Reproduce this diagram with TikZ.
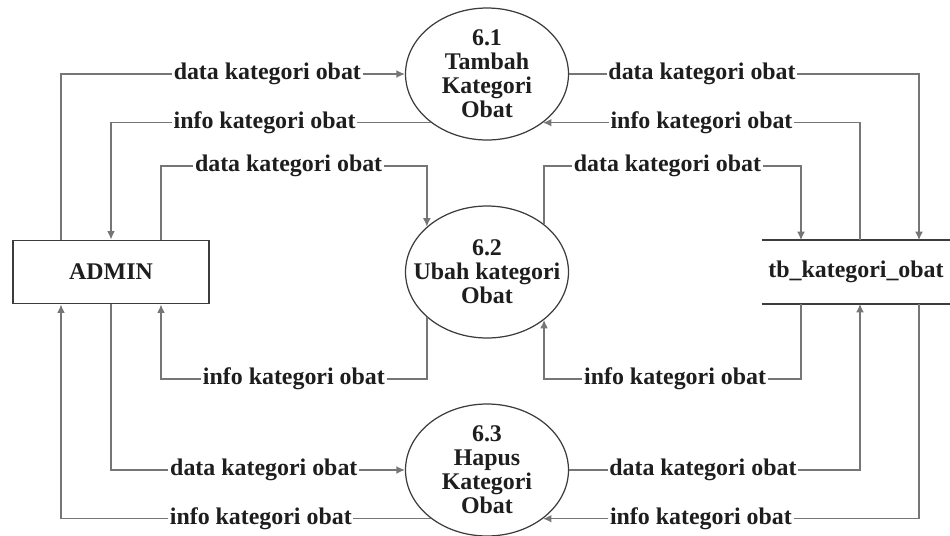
\documentclass[tikz,border=0pt]{standalone}
\usepackage{fontspec}
\setmainfont{Liberation Serif}
\usetikzlibrary{arrows.meta, shapes.geometric}

\begin{document}
\begin{tikzpicture}[
    x=0.02cm, y=-0.02cm,
    every node/.style={font=\fontsize{13.6}{13.7}\selectfont\bfseries, text=textcol},
    proc/.style={ellipse, draw=edgecol, line width=0.7pt,
        minimum width=3.26cm, minimum height=2.64cm, inner sep=0pt},
    proctext/.style={align=center, inner sep=0pt},
    entity/.style={draw=edgecol, line width=1.1pt,
        minimum width=3.92cm, minimum height=1.26cm},
    store/.style={minimum width=3.76cm, minimum height=1.26cm},
    storeline/.style={draw=edgecol, line width=0.9pt},
    flow/.style={draw=flowcol, line width=0.75pt,
        -{Latex[length=4.8pt, width=4.4pt]}},
    flowlbl/.style={fill=white, inner xsep=1pt, inner ysep=0pt},
]

\definecolor{textcol}{HTML}{1E1E1E}   % labels
\definecolor{edgecol}{HTML}{3C3C3C}   % process and entity outlines
\definecolor{flowcol}{HTML}{767676}   % data flows

\useasboundingbox (0,0) rectangle (950,535);

% ---------------------------------------------------------------- entities
\node[entity] (admin) at (111,272) {ADMIN};
\node[store]  (store) at (856,272) {tb\_kategori\_obat};
\draw[storeline] (store.north west) -- (store.north east);
\draw[storeline] (store.south west) -- (store.south east);

% ---------------------------------------------------------------- processes
\node[proc] (p1) at (487,74)  {};
\node[proc] (p2) at (487,272) {};
\node[proc] (p3) at (487,470) {};
\node[proctext] (p1txt) at (p1) {6.1\\Tambah\\Kategori\\Obat};
\node[proctext] (p2txt) at (p2) {6.2\\Ubah kategori\\Obat};
\node[proctext] (p3txt) at (p3) {6.3\\Hapus\\Kategori\\Obat};

% lanes and rows for the routed flows
\coordinate (aL) at (61,272);
\coordinate (aR) at (161,272);
\coordinate (sA) at (801,272);
\coordinate (sB) at (860,272);
\coordinate (sC) at (919,272);
\coordinate (r3) at (0,166);
\coordinate (r4) at (0,379);

% ---------------------------------------------------------------- ADMIN side
\draw[flow] (aL |- admin.north) |- node[flowlbl, pos=0.80] {data kategori obat} (p1.west);
\draw[flow] (p1.221) -| node[flowlbl, pos=0.26] {info kategori obat} (admin.north);
\draw[flow] (aR |- admin.north) -- (aR |- r3)
    -| node[flowlbl, pos=0.24] {data kategori obat} (p2.143);
\draw[flow] (p2.217) -- (p2.217 |- r4)
    -| node[flowlbl, pos=0.25] {info kategori obat} (aR |- admin.south);
\draw[flow] (admin.south) |- node[flowlbl, pos=0.76] {data kategori obat} (p3.west);
\draw[flow] (p3.221) -| node[flowlbl, pos=0.23] {info kategori obat} (aL |- admin.south);

% ---------------------------------------------------------------- store side
\draw[flow] (p1.east) -| node[flowlbl, pos=0.19] {data kategori obat} (sC |- store.north);
\draw[flow] (sB |- store.north) |- node[flowlbl, pos=0.75] {info kategori obat} (p1.319);
\draw[flow] (p2.40) -- (p2.40 |- r3)
    -| node[flowlbl, pos=0.24] {data kategori obat} (sA |- store.north);
\draw[flow] (sA |- store.south) |- node[flowlbl, pos=0.745] {info kategori obat} (p2.320 |- r4)
    -- (p2.320);
\draw[flow] (p3.east) -| node[flowlbl, pos=0.23] {data kategori obat} (sB |- store.south);
\draw[flow] (sC |- store.south) |- node[flowlbl, pos=0.79] {info kategori obat} (p3.319);

\end{tikzpicture}
\end{document}
